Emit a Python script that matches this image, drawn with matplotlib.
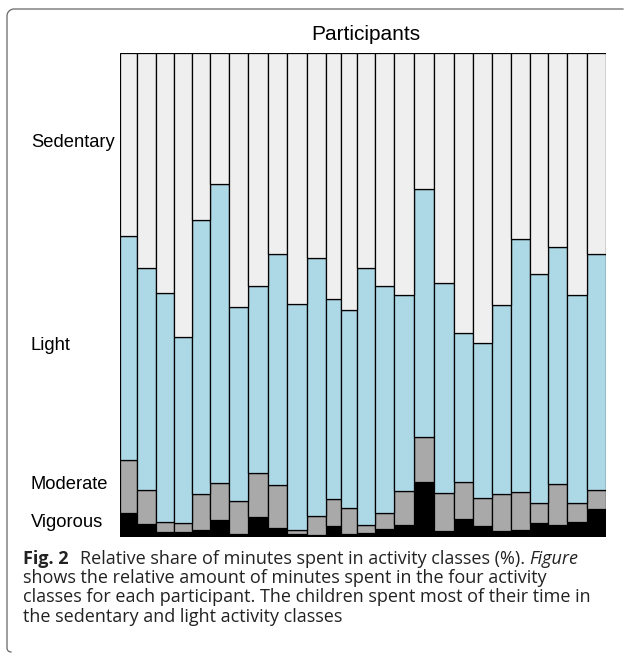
import numpy as np
import matplotlib
matplotlib.use("Agg")
import matplotlib.pyplot as plt
import matplotlib.transforms as mtransforms
from matplotlib.lines import Line2D

# share of minutes (%) per participant, bottom to top
vigorous = [5.0, 2.6, 1.1, 1.0, 1.4, 3.5, 0.7, 4.2, 1.8, 0.6, 0.5, 2.3, 0.6,
            0.8, 1.6, 2.4, 11.3, 1.2, 3.8, 2.3, 1.2, 1.4, 2.8, 2.5, 3.0, 5.8]
moderate = [10.9, 7.1, 1.9, 1.9, 7.4, 7.6, 6.7, 9.0, 8.9, 0.9, 3.9, 5.6, 5.4,
            1.7, 3.4, 7.1, 9.3, 7.9, 7.6, 5.7, 7.6, 7.9, 4.3, 8.4, 4.0, 4.0]
light = [46.3, 45.8, 47.4, 38.5, 56.6, 61.8, 40.2, 38.6, 47.7, 46.6, 53.2, 41.3, 40.9,
         53.0, 47.0, 40.4, 51.4, 43.3, 30.8, 32.0, 39.0, 52.3, 47.3, 49.1, 42.9, 48.6]
sedentary = [37.8, 44.5, 49.5, 58.6, 34.5, 27.1, 52.4, 48.1, 41.5, 51.9, 42.4, 50.8, 53.1,
             44.5, 48.1, 50.0, 28.0, 47.6, 57.8, 60.0, 52.1, 38.4, 45.7, 40.0, 50.0, 41.6]
# relative total minutes per participant (column widths)
totals = [17.3, 18.4, 18.3, 18.3, 17.7, 19.3, 19.0, 20.0, 19.0, 19.4, 19.3, 15.0, 15.7,
          18.3, 19.3, 20.0, 19.7, 20.3, 18.4, 19.0, 19.0, 19.3, 18.3, 19.0, 19.4, 19.3]

classes = ["Vigorous", "Moderate", "Light", "Sedentary"]
colors = ["black", "#a9a9a9", "#add8e6", "#efefef"]

df = np.array([vigorous, moderate, light, sedentary], dtype=float)
df = df / df.sum(axis=0)
w = np.array(totals) / np.sum(totals)
left = np.concatenate([[0], np.cumsum(w)[:-1]])

fig = plt.figure(figsize=(6.24, 6.55), dpi=100)
ax = fig.add_axes([120 / 624, 118 / 655, 486 / 624, 484 / 655])

bottom = np.zeros(len(w))
for vals, col in zip(df, colors):
    ax.bar(left, vals, width=w, bottom=bottom, align="edge", color=col,
           edgecolor="black", linewidth=0.9)
    bottom += vals

ax.set_xlim(0, 1)
ax.set_ylim(0, 1)
ax.axis("off")

# class labels next to the first participant
trans = mtransforms.blended_transform_factory(fig.transFigure, ax.transData)
base = 0
for vals, name in zip(df, classes):
    ax.text(31 / 624, base + vals[0] / 2 + 0.005, name, transform=trans, ha="left",
            va="center", fontsize=13.2, family="Liberation Sans")
    base += vals[0]

fig.text(366 / 624, 1 - 35 / 655, "Participants", ha="center", va="center",
         fontsize=15, family="Liberation Sans")

# caption
renderer = fig.canvas.get_renderer()
cap = dict(fontsize=13, family="Open Sans", color="#222222", va="center")


def put_line(y_px, pieces, x_px=23):
    x = x_px
    for s, extra, gap in pieces:
        t = fig.text(x / 624, 1 - y_px / 655, s, **cap, **extra)
        bb = t.get_window_extent(renderer)
        x = bb.x1 + gap


put_line(559, [("Fig. 2", {"fontweight": "bold"}, 11),
               ("Relative share of minutes spent in activity classes (%).", {}, 4),
               ("Figure", {"style": "italic"}, 0)])
put_line(578, [("shows the relative amount of minutes spent in the four activity", {}, 0)])
put_line(597.5, [("classes for each participant. The children spent most of their time in", {}, 0)])
put_line(616.5, [("the sedentary and light activity classes", {}, 0)])

# figure frame: top and left edge with rounded corners
th = np.linspace(0, np.pi / 2, 12)
xs = np.concatenate([[623], 14 - 7 * np.sin(th), [7], 11 - 4 * np.cos(th)])
ys = np.concatenate([[9], 16 - 7 * np.cos(th), [648], 648 + 4 * np.sin(th)])
fig.add_artist(Line2D(xs / 624, 1 - ys / 655, transform=fig.transFigure,
                      color="#666666", linewidth=0.9))

fig.savefig("out.png", dpi=100)
